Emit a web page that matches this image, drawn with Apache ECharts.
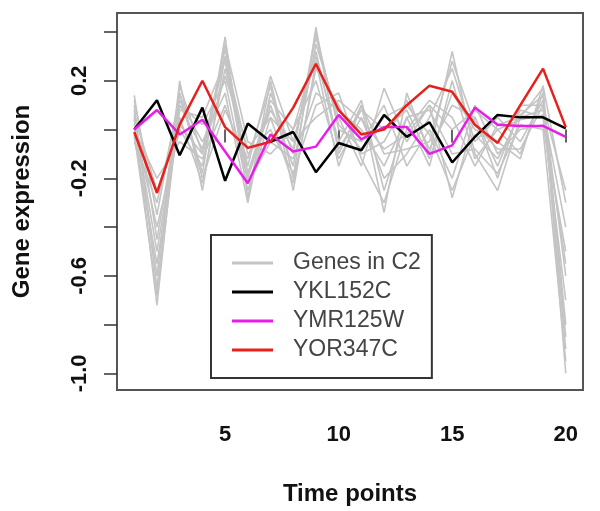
<!DOCTYPE html>
<html>
<head>
    <meta charset='utf-8'>
    <script src="https://cdn.jsdelivr.net/npm/echarts@6/dist/echarts.min.js"></script>
</head>
<body>
<style>
    html, body, #main {
        width: 100%;
        height: 100%;
        margin: 0;
        padding: 0;
        background: #fff;
    }
</style>
<div id="main"></div>
<script>

    // time points 1..20
    var timePoints = [1, 2, 3, 4, 5, 6, 7, 8, 9, 10, 11, 12, 13, 14, 15, 16, 17, 18, 19, 20];

    // highlighted genes
    var ykl152c = [0, 0.12, -0.105, 0.09, -0.21, 0.025, -0.05, -0.01, -0.175, -0.055, -0.085, 0.06, -0.03, 0.03, -0.135, -0.03, 0.06, 0.05, 0.05, 0.005];
    var ymr125w = [0, 0.08, -0.02, 0.04, -0.09, -0.22, -0.02, -0.09, -0.07, 0.06, -0.04, 0.01, 0.01, -0.1, -0.065, 0.09, 0.02, 0.015, 0.015, -0.03];
    var yor347c = [-0.01, -0.26, 0.02, 0.2, 0.01, -0.075, -0.05, 0.09, 0.27, 0.08, -0.02, 0.0, 0.1, 0.18, 0.155, 0.02, -0.055, 0.1, 0.25, 0.01];

    // other genes in cluster C2 (grey)
    var clusterGenes = [
        [0.05, -0.72, 0.15, -0.18, 0.38, -0.28, 0.2, -0.2, 0.42, -0.1, 0.1, -0.34, 0.15, -0.1, 0.32, -0.1, -0.25, 0.05, 0.17, -1.0],
        [0.1, -0.65, 0.18, -0.1, 0.3, -0.2, 0.1, -0.15, 0.35, 0.05, -0.15, 0.17, -0.05, 0.1, -0.28, 0.05, -0.2, 0.1, 0.1, -0.9],
        [-0.03, -0.55, 0.05, -0.22, 0.25, -0.15, 0.22, -0.05, 0.3, -0.05, 0.12, -0.25, 0.05, -0.15, 0.2, -0.12, 0.0, -0.1, 0.15, -0.8],
        [0.14, -0.45, 0.1, 0.02, 0.2, -0.25, 0.05, -0.22, 0.25, 0.1, -0.1, -0.05, 0.12, -0.08, 0.1, 0.05, -0.15, 0.08, 0.05, -0.7],
        [0.02, -0.4, 0.0, -0.15, 0.35, -0.05, -0.1, 0.0, 0.2, -0.12, 0.05, -0.2, -0.1, 0.05, 0.25, -0.05, 0.05, -0.05, 0.12, -0.6],
        [-0.05, -0.3, 0.12, -0.05, 0.15, -0.3, 0.15, -0.1, 0.4, 0.0, -0.05, 0.1, -0.15, 0.0, -0.2, 0.1, -0.1, 0.0, 0.02, -0.5],
        [0.08, -0.6, 0.2, -0.25, 0.3, -0.1, 0.0, -0.18, 0.1, 0.15, -0.12, -0.3, 0.0, 0.12, 0.05, -0.15, 0.02, 0.05, 0.08, -0.4],
        [0.0, -0.2, -0.05, -0.12, 0.1, -0.18, 0.12, 0.0, 0.32, -0.08, 0.08, 0.0, 0.08, -0.12, 0.15, 0.0, -0.05, -0.12, 0.18, -0.3],
        [0.04, -0.5, 0.08, 0.05, 0.28, -0.22, -0.05, -0.12, 0.15, 0.08, 0.0, -0.15, 0.05, 0.08, -0.1, -0.08, -0.18, 0.02, 0.0, -0.95],
        [0.12, -0.35, 0.15, -0.2, 0.08, -0.12, 0.18, -0.25, 0.28, -0.15, 0.1, -0.1, -0.08, -0.05, 0.28, 0.02, -0.08, -0.08, 0.1, -0.25],
        [-0.02, -0.68, 0.1, -0.08, 0.33, -0.18, 0.08, -0.08, 0.38, 0.02, -0.08, 0.05, 0.1, -0.02, -0.25, -0.02, -0.12, 0.06, 0.14, -0.85],
        [0.06, -0.25, 0.02, -0.1, 0.22, -0.08, 0.05, -0.05, 0.05, 0.12, 0.04, -0.08, -0.02, 0.1, 0.0, 0.08, 0.0, 0.04, 0.06, -0.55]
    ];

    var xTicks = [5, 10, 15, 20];
    var yTicks = [-1.0, -0.8, -0.6, -0.4, -0.2, 0.0, 0.2, 0.4];
    var yLabels = [-1.0, -0.6, -0.2, 0.2];

    function pairs(vals) {
        return vals.map(function (v, i) { return [timePoints[i], v]; });
    }

    var chart = echarts.init(document.getElementById('main'));

    var series = [];
    clusterGenes.forEach(function (g) {
        series.push({
            name: 'Genes in C2',
            type: 'line',
            data: pairs(g),
            symbol: 'none',
            lineStyle: {color: '#c4c4c4', width: 1.6},
            itemStyle: {color: '#c4c4c4'}
        });
    });
    series.push({name: 'YKL152C', type: 'line', data: pairs(ykl152c), symbol: 'none', z: 3,
        lineStyle: {color: '#000', width: 2.5}, itemStyle: {color: '#000'}});
    series.push({name: 'YMR125W', type: 'line', data: pairs(ymr125w), symbol: 'none', z: 3,
        lineStyle: {color: '#e81ee8', width: 2.5}, itemStyle: {color: '#e81ee8'}});
    series.push({name: 'YOR347C', type: 'line', data: pairs(yor347c), symbol: 'none', z: 4,
        lineStyle: {color: '#e8201c', width: 2.5}, itemStyle: {color: '#e8201c'}});

    var option = {
        animation: false,
        textStyle: {fontFamily: 'Liberation Sans, Arial, sans-serif'},
        grid: {
            left: 117, right: 17, top: 13, bottom: 121,
            show: true, borderColor: '#555', borderWidth: 2
        },
        legend: {
            data: ['Genes in C2', 'YKL152C', 'YMR125W', 'YOR347C'],
            orient: 'vertical',
            left: 211, top: 235,
            padding: [16, 11, 16, 21],
            icon: 'rect',
            itemWidth: 41, itemHeight: 3, itemGap: 5,
            borderColor: '#333', borderWidth: 2,
            backgroundColor: '#fff',
            selectedMode: false,
            textStyle: {fontSize: 23, color: '#444', lineHeight: 24, padding: [0, 0, 0, 15]}
        },
        xAxis: {
            type: 'value',
            min: 0.24, max: 20.76,
            name: 'Time points',
            nameLocation: 'middle',
            nameGap: 92,
            nameTextStyle: {fontSize: 24, fontWeight: 'bold', color: '#111'},
            axisLine: {show: false},
            splitLine: {show: false},
            axisTick: {show: true, length: 13, inside: false, customValues: xTicks,
                lineStyle: {color: '#333', width: 1.5}},
            axisLabel: {customValues: xTicks, margin: 34, fontSize: 22, fontWeight: 'bold', color: '#111'}
        },
        yAxis: {
            type: 'value',
            min: -1.068, max: 0.478,
            name: 'Gene expression',
            nameLocation: 'middle',
            nameGap: 83,
            nameTextStyle: {fontSize: 24, fontWeight: 'bold', color: '#111'},
            axisLine: {show: false},
            splitLine: {show: false},
            axisTick: {show: true, length: 13, inside: false, customValues: yTicks,
                lineStyle: {color: '#333', width: 1.5}},
            axisLabel: {
                customValues: yLabels, rotate: 90, margin: 26, fontSize: 22, fontWeight: 'bold', color: '#111',
                formatter: function (v) { return v.toFixed(1); }
            }
        },
        series: series
    };

    chart.setOption(option);
</script>
</body>
</html>
